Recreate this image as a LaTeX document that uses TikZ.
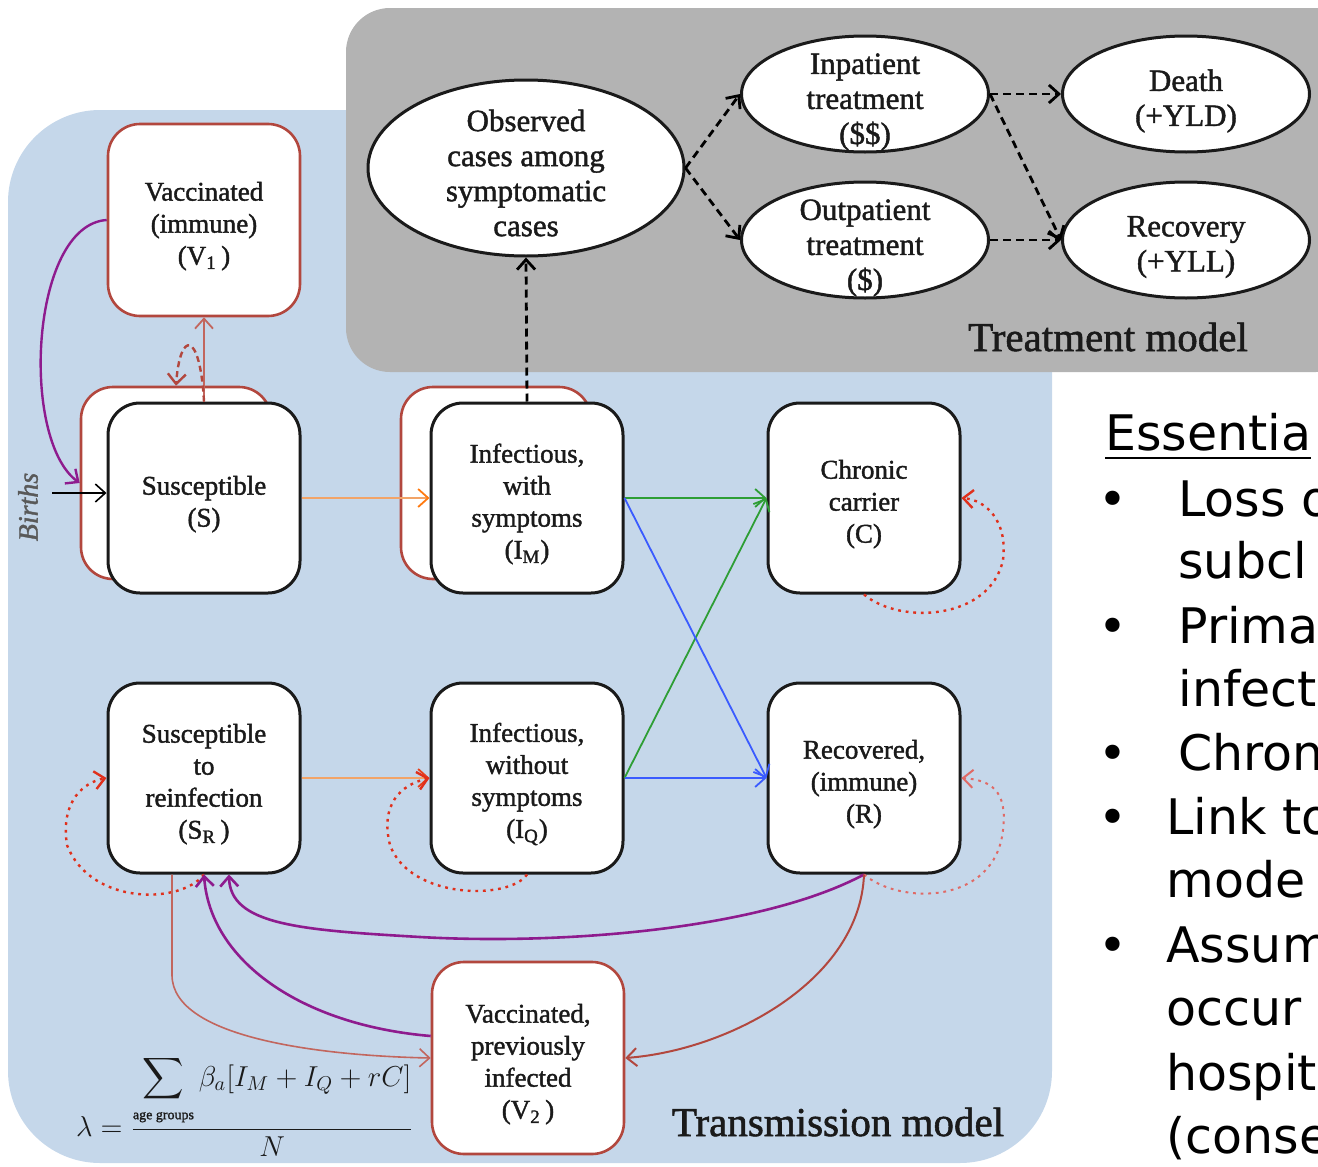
\documentclass[tikz,border=0pt]{standalone}
\usepackage{fontspec}
\usepackage{amsmath}
\usepackage{tikz}
\usetikzlibrary{arrows.meta,shapes.geometric,calc}
\setmainfont{Liberation Serif}[FakeBold=1.4]
\newfontfamily\slidefont{DejaVu Sans}
\definecolor{ink}      {HTML}{1A1A1A}
\definecolor{transblue}{HTML}{C5D7EA}
\definecolor{treatgray}{HTML}{B3B3B3}
\definecolor{vaxred}   {HTML}{B2473E}
\definecolor{wanered}  {HTML}{C2665E}
\definecolor{loopred}  {HTML}{E0301C}
\definecolor{looppink} {HTML}{E06A66}
\definecolor{vpurple}  {HTML}{8E1B8E}
\definecolor{infline}  {HTML}{F2A468}
\definecolor{inftip}   {HTML}{FF7A10}
\definecolor{reinftip} {HTML}{E8401C}
\definecolor{carrgreen}{HTML}{2E9E35}
\definecolor{recblue}  {HTML}{3A5BFF}
\newcommand{\lowsub}[1]{\textsubscript{#1}}
\newcommand{\topstrut}{\rule{0pt}{15.5pt}}
\tikzset{
  comp/.style={draw=ink,line width=1.5pt,fill=white,rounded corners=16pt,
    minimum width=96pt,minimum height=95pt,align=center,inner sep=0pt,
    text=ink,font=\fontsize{13.5}{16}\selectfont},
  vaxcomp/.style={comp,draw=vaxred,line width=1.3pt},
  ghostcomp/.style={draw=vaxred,line width=1.3pt,fill=white,rounded corners=16pt,
    minimum width=95pt,minimum height=96pt},
  outcome/.style={ellipse,draw=ink,line width=1.5pt,fill=white,
    minimum width=123.5pt,minimum height=58pt,inner sep=0pt},
  outtext/.style={align=center,text=ink,font=\fontsize{15.5}{17.5}\selectfont},
  flow/.style={-{Straight Barb[length=5pt,width=9pt]},line width=0.9pt},
  dashflow/.style={flow,line width=1.4pt,dash pattern=on 4pt off 2.5pt},
  loopflow/.style={flow,line width=1.2pt,dash pattern=on 1.4pt off 2.4pt},
  slide/.style={inner sep=0pt,text=black,font=\slidefont\fontsize{24.5}{30}\selectfont},
  panellabel/.style={text=ink,font=\fontsize{20.5}{24}\selectfont},
}
\begin{document}
\begin{tikzpicture}[x=0.5pt,y=-0.5pt]
  \useasboundingbox (0,0) rectangle (1318,1167);
  \clip (0,0) rectangle (1318,1167);

  % panels
  \fill[transblue,rounded corners=46pt] (8,110) rectangle (1052,1163);
  \fill[treatgray,rounded corners=22pt] (346,8) rectangle (1360,372);

  % transmission compartments
  \node[ghostcomp] (Sghost) at (176,483) {};
  \node[ghostcomp] (IMghost) at (496,483) {};
  \node[vaxcomp,minimum height=96pt] (V1) at (204,220) {\topstrut Vaccinated\\(immune)\\(V\lowsub{1}\,)};
  \node[comp] (S) at (204,498) {\topstrut Susceptible\\(S)};
  \node[comp] (IM) at (527,498) {\topstrut Infectious,\\with\\symptoms\\(I\lowsub{M})};
  \node[comp] (C) at (864,498) {\topstrut Chronic\\carrier\\(C)};
  \node[comp] (SR) at (204,778) {\topstrut Susceptible\\to\\reinfection\\(S\lowsub{R}\,)};
  \node[comp] (IQ) at (527,778) {\topstrut Infectious,\\without\\symptoms\\(I\lowsub{Q})};
  \node[comp] (R) at (864,778) {\topstrut Recovered,\\(immune)\\(R)};
  \node[vaxcomp,minimum height=96pt] (V2) at (528,1058) {\topstrut Vaccinated,\\previously\\infected\\(V\lowsub{2}\,)};

  % treatment outcomes
  \node[outcome,minimum width=158pt,minimum height=88pt] (obs) at (526,168) {};
  \node[outtext] (obstext) at ($(obs)+(0,5)$) {Observed\\cases among\\symptomatic\\cases};
  \node[outcome] (inpat) at (865,94) {};
  \node[outtext] (inpattext) at ($(inpat)+(0,8)$) {Inpatient\\treatment\\(\$\$)};
  \node[outcome] (outpat) at (865,240) {};
  \node[outtext] (outpattext) at ($(outpat)+(0,8)$) {Outpatient\\treatment\\(\$)};
  \node[outcome] (death) at (1186,94) {};
  \node[outtext] (deathtext) at ($(death)+(0,7)$) {Death\\(+YLD)};
  \node[outcome] (recov) at (1186,240) {};
  \node[outtext] (recovtext) at ($(recov)+(0,7)$) {Recovery\\(+YLL)};

  \node[panellabel] (treatlabel) at (1108,337) {Treatment model};
  \node[panellabel] (translabel) at (838,1122) {Transmission model};
  \node[rotate=90,text=black!65,font=\itshape\fontsize{14}{16}\selectfont] (births) at (28,507) {Births};
  \node[text=ink,font=\fontsize{14.5}{16}\selectfont] (lambda) at (245,1106)
    {$\lambda=\dfrac{\displaystyle\sum_{\text{\scriptsize age groups}}\beta_a[I_M+I_Q+rC]}{N}$};

  % births and vaccination
  \coordinate (birthin) at (52,493);
  \draw[flow,black,line width=0.8pt] (birthin) -- ($(S.west)+(0,-5)$);
  \draw[flow,vpurple,line width=1.2pt] (V1.west) .. controls (30,225) and (20,440) .. (Sghost.west);
  \draw[flow,wanered] (S.north) -- (V1.south);
  \draw[loopflow,vaxred,dash pattern=on 3pt off 2pt] (S.north) .. controls (200,330) and (180,330) .. (Sghost.north);

  % infection
  \draw[flow,infline,-{Straight Barb[length=5pt,width=9pt,color=inftip]}] (S.east) -- (IM.west);
  \draw[flow,infline,-{Straight Barb[length=5pt,width=9pt,color=reinftip]}] (SR.east) -- (IQ.west);
  \draw[flow,carrgreen] (IM.east) -- (C.west);
  \draw[flow,carrgreen] (IQ.east) -- (C.west);
  \draw[flow,recblue] (IM.east) -- (R.west);
  \draw[flow,recblue] (IQ.east) -- (R.west);

  % self loops
  \draw[loopflow,loopred] (C.south) .. controls (900,625) and (990,620) .. (1003,560)
    .. controls (1008,520) and (985,500) .. (C.east);
  \draw[loopflow,looppink,line width=1pt] (R.south) .. controls (900,905) and (995,905) .. (1003,830)
    .. controls (1008,790) and (990,780) .. (R.east);
  \draw[loopflow,loopred] (IQ.south) .. controls (510,900) and (410,900) .. (390,845)
    .. controls (380,805) and (400,785) .. (IQ.west);
  \draw[loopflow,loopred] (SR.south) .. controls (180,905) and (90,905) .. (67,845)
    .. controls (60,800) and (85,782) .. (SR.west);

  % waning and revaccination
  \draw[flow,vpurple,line width=1.3pt] ($(V2.west)+(0,-22)$) .. controls (300,1025) and (210,960) .. (SR.south);
  \draw[flow,vpurple,line width=1.3pt] (R.south) .. controls (760,930) and (560,945) .. (420,937)
    .. controls (300,930) and (230,925) .. ($(SR.south)+(25,0)$);
  \draw[flow,wanered,line width=0.8pt] ($(SR.south)+(-32,0)$) -- (172,975)
    .. controls (172,1040) and (330,1056) .. (V2.west);
  \draw[flow,vaxred,line width=1pt] (R.south) .. controls (860,980) and (730,1050) .. (V2.east);

  % link to treatment model
  \draw[dashflow] (IM.north) -- (obs.south);
  \draw[dashflow] (obs.east) -- (inpat.west);
  \draw[dashflow] (obs.east) -- (outpat.west);
  \draw[dashflow] (inpat.east) -- (death.west);
  \draw[dashflow] (inpat.east) -- (recov.west);
  \draw[dashflow] (outpat.east) -- (recov.west);

  % slide notes
  \node[slide,anchor=base west] (notehead) at (1105,450) {\underline{Essentia}};
  \foreach \yb in {516,643,770,834,962} {
    \node[slide,anchor=base] (bullet\yb) at (1113,\yb) {•};
  }
  \foreach \xb/\yb/\txt in {1178/516/{Loss o},1178/578/{subcl},1178/643/{Prima},1178/706/{infect},
      1178/770/{Chron},1166/834/{Link to},1166/897/{mode},1166/962/{Assum},1166/1025/{occur},
      1166/1090/{hospit},1166/1153/{(conse}} {
    \node[slide,anchor=base west] (note\yb) at (\xb,\yb) {\txt};
  }
\end{tikzpicture}
\end{document}
